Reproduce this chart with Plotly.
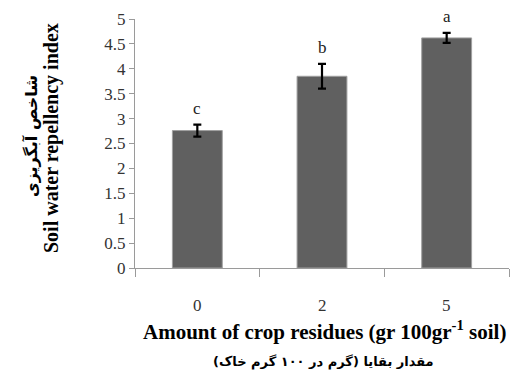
import plotly.graph_objects as go

categories = ["0", "2", "5"]
values = [2.76, 3.85, 4.62]
errors = [0.12, 0.25, 0.10]
letters = ["c", "b", "a"]
y_ticks = [0, 0.5, 1, 1.5, 2, 2.5, 3, 3.5, 4, 4.5, 5]
y_tick_text = ["0", "0.5", "1", "1.5", "2", "2.5", "3", "3.5", "4", "4.5", "5"]

serif = "Liberation Serif, Times New Roman, DejaVu Serif, serif"
arabic = "DejaVu Sans, Noto Sans, sans-serif"

fig = go.Figure()
fig.add_trace(go.Bar(
    x=list(range(len(categories))), y=values,
    marker=dict(color="#606060", line=dict(color="#a0a0a0", width=1)),
    width=0.4,
    error_y=dict(type="data", array=errors, visible=True, color="black", thickness=2.2, width=4),
    showlegend=False,
))

for i, (v, e, l) in enumerate(zip(values, errors, letters)):
    fig.add_annotation(x=i, y=v + e, text=l, showarrow=False, yanchor="bottom", yshift=5,
                       font=dict(family=serif, size=17, color="#222"))

# axis titles
fig.add_annotation(xref="paper", yref="paper", x=0, y=0.522, xshift=-84, textangle=-90,
                   xanchor="center", yanchor="middle",
                   text="<b>Soil water repellency index</b>", showarrow=False,
                   font=dict(family=serif, size=20, color="black"))
fig.add_annotation(xref="paper", yref="paper", x=0, y=0.53, xshift=-104, textangle=-90,
                   xanchor="center", yanchor="middle",
                   text="<b>شاخص آبگریزی</b>", showarrow=False,
                   font=dict(family=arabic, size=16, color="black"))
fig.add_annotation(xref="paper", yref="paper", x=0.508, y=0, yshift=-62,
                   xanchor="center", yanchor="middle",
                   text="<b>Amount of crop residues (gr 100gr<sup>-1</sup> soil)</b>", showarrow=False,
                   font=dict(family=serif, size=21, color="black"))
fig.add_annotation(xref="paper", yref="paper", x=0.505, y=0, yshift=-94,
                   xanchor="center", yanchor="middle",
                   text="<b>مقدار بقایا (گرم در ۱۰۰ گرم خاک)</b>", showarrow=False,
                   font=dict(family=arabic, size=13, color="black"))

fig.update_layout(
    width=512, height=378,
    margin=dict(l=135, r=3, t=19, b=110),
    paper_bgcolor="white", plot_bgcolor="white",
)
fig.update_yaxes(
    range=[0, 5], tickvals=y_ticks, ticktext=y_tick_text,
    showgrid=False, zeroline=False,
    showline=True, linecolor="#9a9a9a", linewidth=1,
    ticks="outside", ticklen=5, tickcolor="#9a9a9a",
    tickfont=dict(family=serif, size=17, color="#333"),
)
fig.update_xaxes(
    range=[-0.5, 2.5],
    tickmode="array", tickvals=[-0.5, 0.5, 1.5, 2.5], showticklabels=False,
    showgrid=False, zeroline=False, showline=True, linecolor="#9a9a9a", linewidth=1,
    ticks="outside", ticklen=8, tickcolor="#9a9a9a",
)
for i, c in enumerate(categories):
    fig.add_annotation(x=i, xref="x", yref="paper", y=0, yshift=-37, yanchor="middle",
                       text=c, showarrow=False,
                       font=dict(family=serif, size=17, color="#333"))

fig.write_html("out.html")
